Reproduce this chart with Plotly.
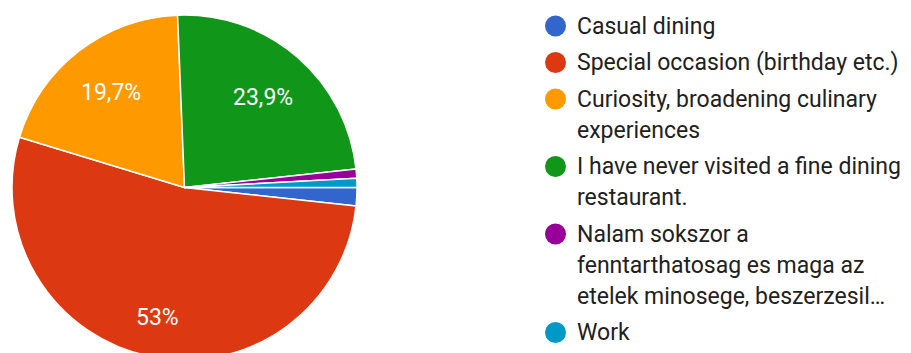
import math
import plotly.graph_objects as go

# Survey answers (response counts) and the palette used for each answer
labels = [
    "Casual dining",
    "Special occasion (birthday etc.)",
    "Curiosity, broadening culinary experiences",
    "I have never visited a fine dining restaurant.",
    "Nalam sokszor a fenntarthatosag es maga az etelek minosege, beszerzesil…",
    "Work",
]
counts = [2, 62, 23, 28, 1, 1]
colors = ["#3366cc", "#dc3912", "#ff9900", "#109618", "#990099", "#0099c6"]
legend_lines = [
    ["Casual dining"],
    ["Special occasion (birthday etc.)"],
    ["Curiosity, broadening culinary", "experiences"],
    ["I have never visited a fine dining", "restaurant."],
    ["Nalam sokszor a", "fenntarthatosag es maga az", "etelek minosege, beszerzesil…"],
    ["Work"],
]

W, H = 911, 370
FONT = "Roboto, Arial, sans-serif"
LABEL_SIZE = 23
LEGEND_SIZE = 23

total = sum(counts)


def pct_text(c):
    share = 100.0 * c / total
    if share < 5:
        return ""
    s = f"{share:.1f}"
    if s.endswith(".0"):
        s = s[:-2]
    return s.replace(".", ",") + "%"


slice_text = [pct_text(c) for c in counts]

fig = go.Figure()

# pie placed by pixel box: centre (cx, cy), radius r
cx, cy, r = 184.5, 187.5, 172.5
start_deg = 90.0
fig.add_trace(go.Pie(
    labels=labels,
    values=counts,
    textinfo="none",
    marker=dict(colors=colors, line=dict(color="white", width=1.5)),
    sort=False,
    direction="clockwise",
    rotation=start_deg,
    showlegend=False,
    hoverinfo="label+percent",
    domain=dict(x=[(cx - r) / W, (cx + r) / W],
                y=[1 - (cy + r) / H, 1 - (cy - r) / H]),
))

# approximate advance widths (em) for the percentage labels
CHAR_EM = {",": 0.20, "%": 0.73}


def text_width(s, size):
    return sum(CHAR_EM.get(ch, 0.5615) for ch in s) * size


# percentage labels on the slice bisectors, outer corner of the text box
# kept at 85% of the radius
acc = 0.0
for c, txt in zip(counts, slice_text):
    mid = start_deg + 360.0 * (acc + c / 2.0) / total
    acc += c
    if not txt:
        continue
    th = math.radians(mid)
    ux, uy = math.sin(th), -math.cos(th)
    kx = math.copysign(text_width(txt, LABEL_SIZE) / 2.0, ux)
    ky = math.copysign(0.75 * LABEL_SIZE / 2.0, uy)
    R = 0.85 * r
    uk = ux * kx + uy * ky
    d = -uk + math.sqrt(uk * uk - (kx * kx + ky * ky) + R * R)
    fig.add_annotation(
        x=cx + d * ux, y=cy + d * uy, xref="x", yref="y",
        text=txt, showarrow=False, xanchor="center", yanchor="middle",
        font=dict(family=FONT, size=LABEL_SIZE, color="white"),
    )

# legend built from circle markers and text lines
marker_x = 555.5
text_x = 575.0
first_y = 26.0
line_h = 31.0
entry_gap = 36.5

ys = []
y = first_y
for lines in legend_lines:
    ys.append(y)
    y += (len(lines) - 1) * line_h + entry_gap

fig.add_trace(go.Scatter(
    x=[marker_x] * len(labels),
    y=ys,
    mode="markers",
    marker=dict(size=21, color=colors, line=dict(width=0)),
    showlegend=False,
    hoverinfo="skip",
))

for lines, y0 in zip(legend_lines, ys):
    for k, line in enumerate(lines):
        fig.add_annotation(
            x=text_x, y=y0 + k * line_h, xref="x", yref="y",
            text=line, showarrow=False, xanchor="left", yanchor="middle",
            font=dict(family=FONT, size=LEGEND_SIZE, color="#212121"),
        )

fig.update_xaxes(visible=False, range=[0, W], domain=[0, 1], fixedrange=True)
fig.update_yaxes(visible=False, range=[H, 0], domain=[0, 1], fixedrange=True)

fig.update_layout(
    width=W,
    height=H,
    margin=dict(l=0, r=0, t=0, b=0),
    paper_bgcolor="white",
    plot_bgcolor="white",
    showlegend=False,
)

fig.write_html(
    "out.html",
    post_script="document.documentElement.style.overflow='hidden';document.body.style.overflow='hidden';",
)
